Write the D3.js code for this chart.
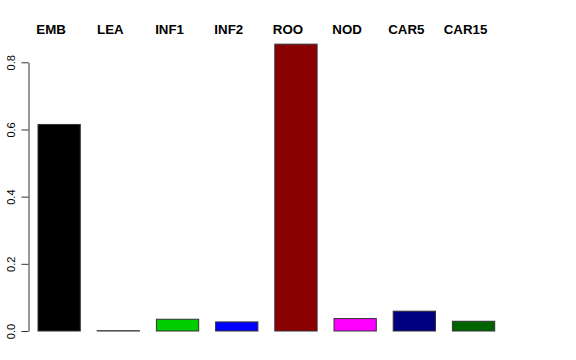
<!DOCTYPE html>
<html><head><meta charset="utf-8">
<script src="https://cdn.jsdelivr.net/npm/d3@7"></script>
<style>body{margin:0;background:#fff}svg{display:block}</style>
</head><body>
<svg id="c" width="576" height="360"></svg>
<script>
const categories = ["EMB","LEA","INF1","INF2","ROO","NOD","CAR5","CAR15"];
const values = [0.615, 0.001, 0.035, 0.027, 0.854, 0.037, 0.059, 0.029];
const colors = ["#000000","#ffffff","#00cd00","#0000ff","#8b0000","#ff00ff","#000080","#006400"];
const yTicks = [0, 0.2, 0.4, 0.6, 0.8];

const svg = d3.select("#c");
const y = d3.scaleLinear().domain([0, 0.8]).range([331, 62.3]);
const x = d3.scaleBand().domain(categories).range([38, 494.7]).paddingInner(0.4/1.4).paddingOuter(0);

svg.selectAll("rect.bar").data(categories).enter().append("rect")
  .attr("class","bar")
  .attr("x", d => x(d)).attr("width", x.bandwidth())
  .attr("y", (d,i) => y(values[i])).attr("height", (d,i) => y(0) - y(values[i]))
  .attr("fill", (d,i) => colors[i]).attr("stroke", "#333").attr("stroke-width", 1);

const ax = svg.append("g").attr("transform","translate(28.5,0)")
  .call(d3.axisLeft(y).tickValues(yTicks).tickFormat(d3.format(".1f")).tickSize(7).tickSizeOuter(0));
ax.select(".domain").attr("stroke","#333");
ax.selectAll(".tick line").attr("stroke","#333");
ax.selectAll(".tick text")
  .attr("font-family","Liberation Sans, Arial, sans-serif").attr("font-size","11px").attr("fill","#000")
  .attr("transform", "rotate(-90)")
  .attr("x", 0).attr("y", -14).attr("dy", 0)
  .attr("text-anchor","middle");

svg.selectAll("text.lab").data(categories).enter().append("text")
  .attr("class","lab")
  .attr("x", d => x(d) + x.bandwidth()/2 - 8).attr("y", 34)
  .attr("text-anchor","middle")
  .attr("font-family","Liberation Sans, Arial, sans-serif").attr("font-weight","bold").attr("font-size","13.3px")
  .text(d => d);
</script>
</body></html>
